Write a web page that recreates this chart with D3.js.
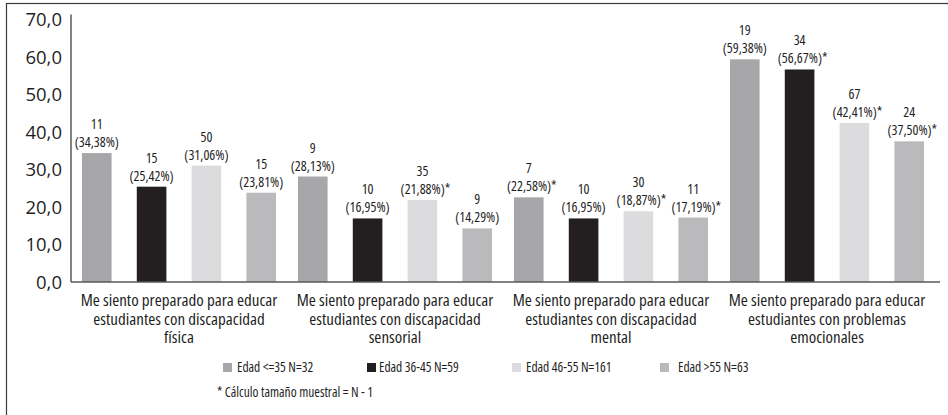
<!DOCTYPE html>
<html lang="es">
<head>
<meta charset="utf-8">
<script src="https://d3js.org/d3.v7.min.js"></script>
<style>
  body { margin: 0; background: #fff; }
  svg text { font-family: "Open Sans", sans-serif; font-stretch: 75%; font-weight: 400; fill: #1f1f1f; }
  svg .tick text { font-stretch: 100%; }
</style>
</head>
<body>
<div id="chart"></div>
<script>
const width = 948
const height = 415

// data
const categories = [
  ['Me siento preparado para educar', 'estudiantes con discapacidad', 'física'],
  ['Me siento preparado para educar', 'estudiantes con discapacidad', 'sensorial'],
  ['Me siento preparado para educar', 'estudiantes con discapacidad', 'mental'],
  ['Me siento preparado para educar', 'estudiantes con problemas', 'emocionales']
]
const seriesNames = ['Edad <=35 N=32', 'Edad 36-45 N=59', 'Edad 46-55 N=161', 'Edad >55 N=63']
const seriesColors = ['#a7a7a9', '#231f20', '#dcdcde', '#bababc']
// percentages per series, one value per category
const pctValues = [
  [34.38, 28.13, 22.58, 59.38],
  [25.42, 16.95, 16.95, 56.67],
  [31.06, 21.88, 18.87, 42.41],
  [23.81, 14.29, 17.19, 37.50]
]
const counts = [
  [11, 9, 7, 19],
  [15, 10, 10, 34],
  [50, 35, 30, 67],
  [15, 9, 11, 24]
]
const starred = [
  [false, false, true, false],
  [false, false, false, true],
  [false, true, true, true],
  [false, false, true, true]
]
const yTicks = [0, 10, 20, 30, 40, 50, 60, 70]
const footnote = '* Cálculo tamaño muestral = N - 1'

const svg = d3.select('#chart').append('svg')
  .attr('width', width)
  .attr('height', height)

// outer frame
svg.append('rect')
  .attr('x', 6.5).attr('y', 3.5)
  .attr('width', 960).attr('height', 430)
  .attr('fill', 'none')
  .attr('stroke', '#3a3a3a')
  .attr('stroke-width', 1.2)

const x0 = d3.scaleBand()
  .domain(d3.range(categories.length))
  .range([71, 935])

const x1 = d3.scaleBand()
  .domain(d3.range(seriesNames.length))
  .range([0, x0.bandwidth()])
  .paddingInner(0.46)
  .paddingOuter(0.2)

const y = d3.scaleLinear()
  .domain([0, 70])
  .range([282, 19.5])

// y axis
const yAxis = d3.axisLeft(y)
  .tickValues(yTicks)
  .tickSize(0)
  .tickPadding(9)
  .tickFormat(d => d3.format('.1f')(d).replace('.', ','))

const yg = svg.append('g')
  .attr('transform', 'translate(71,0)')
  .call(yAxis)
yg.select('.domain').remove()
yg.selectAll('text')
  .style('font-size', '18.5px')
  .style('font-family', null)
  .attr('dy', '0.34em')

svg.append('line')
  .attr('x1', 71).attr('x2', 71)
  .attr('y1', y(0)).attr('y2', y(70) - 5)
  .attr('stroke', '#595959')
  .attr('stroke-width', 1.5)

// bars
const rows = []
seriesNames.forEach((s, si) => {
  categories.forEach((c, ci) => {
    rows.push({ si, ci, v: pctValues[si][ci], n: counts[si][ci], star: starred[si][ci] })
  })
})

svg.append('g').selectAll('rect')
  .data(rows)
  .join('rect')
  .attr('x', d => x0(d.ci) + x1(d.si))
  .attr('y', d => y(d.v))
  .attr('width', x1.bandwidth())
  .attr('height', d => y(0) - y(d.v))
  .attr('fill', d => seriesColors[d.si])

// value labels
const lab = svg.append('g').selectAll('g')
  .data(rows)
  .join('g')
  .attr('transform', d => `translate(${x0(d.ci) + x1(d.si) + x1.bandwidth() / 2},${y(d.v)})`)

lab.append('text')
  .attr('y', -24)
  .attr('text-anchor', 'middle')
  .style('font-size', '14px')
  .text(d => d.n)

lab.append('text')
  .attr('y', -6)
  .attr('text-anchor', 'middle')
  .style('font-size', '14px')
  .text(d => '(' + d3.format('.2f')(d.v).replace('.', ',') + '%)' + (d.star ? '*' : ''))
  .attr('dx', d => d.star ? 3 : 0)

// baseline
svg.append('line')
  .attr('x1', 71).attr('x2', 940)
  .attr('y1', y(0)).attr('y2', y(0))
  .attr('stroke', '#595959')
  .attr('stroke-width', 1.5)

// category labels, one text per line
const catLines = []
categories.forEach((c, ci) => c.forEach((t, li) => catLines.push({ ci, li, t })))

svg.append('g').selectAll('text')
  .data(catLines)
  .join('text')
  .attr('text-anchor', 'middle')
  .attr('x', d => x0(d.ci) + x0.bandwidth() / 2)
  .attr('y', d => 306 + d.li * 18.5)
  .style('font-size', '17px')
  .style('font-stretch', '80%')
  .text(d => d.t)

// legend
const legendX = [223, 367, 512, 660]
const legendTextX = [237, 379, 526, 678]
const lg = svg.append('g')
lg.selectAll('rect')
  .data(seriesNames)
  .join('rect')
  .attr('x', (d, i) => legendX[i])
  .attr('y', 363)
  .attr('width', 9).attr('height', 9)
  .attr('fill', (d, i) => seriesColors[i])
lg.selectAll('text')
  .data(seriesNames)
  .join('text')
  .attr('x', (d, i) => legendTextX[i])
  .attr('y', 372)
  .style('font-size', '13.5px')
  .text(d => d)

svg.append('text')
  .attr('x', 217)
  .attr('y', 397)
  .style('font-size', '13.5px')
  .text(footnote)
</script>
</body>
</html>
